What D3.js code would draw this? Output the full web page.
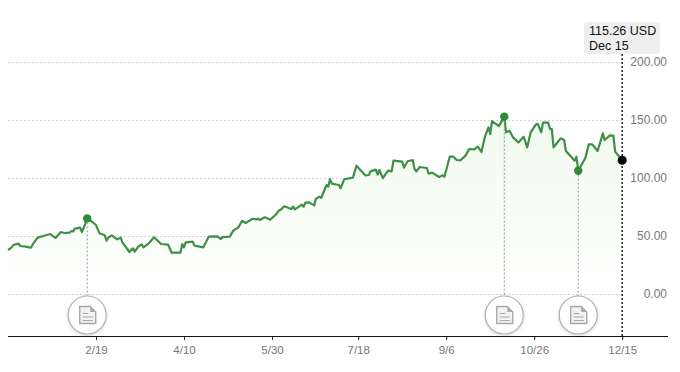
<!DOCTYPE html>
<html lang="en">
<head>
<meta charset="UTF-8"/>
<title>Price chart</title>
<script src="https://d3js.org/d3.v7.min.js"></script>
<style>
    body { margin: 0; background: #fff; }
    svg { display: block; font-family: "Liberation Sans", sans-serif; }
</style>
</head>
<body>
<script>
// days counted from Dec 31 of the year before
var days = [0,2,3,6,7,10,13,15,17,20,24,27,30,32,35,36,37,38,41,42,44,45,47,50,52,55,56,57,59,62,64,65,69,71,72,74,76,77,80,83,87,91,93,98,99,100,101,105,106,111,114,119,121,122,
    126,128,131,133,135,139,141,142,143,146,149,152,154,155,157,161,162,163,167,168,169,171,174,175,177,178,181,182,183,184,188,189,191,196,198,203,205,206,209,210,211,213,216,218,219,224,225,227,230,231,232,234,238,239,241,245,
    247,248,251,253,255,257,260,262,265,267,269,271,273,274,275,279,282,283,285,287,290,293,295,297,300,301,303,304,307,308,309,310,314,316,317,320,322,323,324,328,330,332,335,338,339,342,344,345,349];
var prices = [37.9,40.2,42.2,43.4,41.4,40.8,39.9,45.1,48.6,50,51.7,48.3,53.4,52.6,52.9,54.3,54,56.3,57.2,53.4,60.9,65.2,63.2,59.5,52.3,50.6,46,48.6,50.6,47.1,48.6,44.5,36.2,39.4,36.5,40.8,42.8,40.2,43.7,48.9,43.1,42.5,35.6,35.6,43.1,40.2,44.5,45.1,41.7,40.2,49.4,49.7,47.4,49.1,
    49.4,54.6,57.5,63.2,61.2,64.9,64.4,64.9,63.8,66.1,64.1,68.1,72.1,72.7,75.6,73.3,75.3,73,77,75.3,78.7,79,76.4,82.2,83.9,83,94,92.5,99.1,95.1,94,91.1,98.9,100.3,110.6,102.3,102.6,105.7,107.2,102.9,106.9,100,106.3,105.7,114.9,114.1,108.9,114.4,115.5,107.8,105.7,109.5,108.6,103.7,104.6,100.9,
    102.3,101.1,118.4,118.4,115.5,115.2,119.3,125,124.7,127,122.4,135.6,143.7,137.9,149.1,144.8,152.9,139.4,140.8,135,130.7,135.6,126.4,139.4,146.3,146.6,139.4,147.7,147.7,142.2,142.2,126.4,134.2,132.8,123.3,118.4,114.9,118.4,106.3,117,129,129,123.3,138.5,132.8,136.8,136.5,122.7,115.26];

var yTicks = [0,50,100,150,200];
var xTickDays = [50,100,150,199,249,299,349];
var xTickLabels = ["2/19","4/10","5/30","7/18","9/6","10/26","12/15"];
var eventDays = [45,282,324];

var w = 680;
var h = 372;
var left = 8;
var right = 668;
var axisY = 336;

var xScale = d3.scaleLinear().domain([0,349]).range([left,622.2]);
var yScale = d3.scaleLinear().domain([0,200]).range([294,62]);

var points = days.map(function(d, i) { return [d, prices[i]]; });

var svg = d3.select("body").append("svg").attr("width", w).attr("height", h);
var defs = svg.append("defs");

var grad = defs.append("linearGradient")
    .attr("id", "areaFill")
    .attr("gradientUnits", "userSpaceOnUse")
    .attr("x1", 0).attr("x2", 0)
    .attr("y1", yScale(150)).attr("y2", yScale(0));
grad.append("stop").attr("offset", "0%").attr("stop-color", "#f1f9ed");
grad.append("stop").attr("offset", "100%").attr("stop-color", "#ffffff");

var shadow = defs.append("filter").attr("id", "soft")
    .attr("x", "-30%").attr("y", "-30%").attr("width", "160%").attr("height", "160%");
shadow.append("feDropShadow")
    .attr("dx", 0).attr("dy", 1).attr("stdDeviation", 1.5)
    .attr("flood-color", "#000").attr("flood-opacity", 0.18);

// grid
svg.append("g").selectAll("line")
    .data(yTicks)
    .enter()
    .append("line")
    .attr("x1", left)
    .attr("x2", xScale(349))
    .attr("y1", function(d) { return yScale(d) + 0.5; })
    .attr("y2", function(d) { return yScale(d) + 0.5; })
    .attr("stroke", "#d2d2d2")
    .attr("stroke-dasharray", "2,2");

// area and line
var area = d3.area()
    .x(function(d) { return xScale(d[0]); })
    .y0(yScale(0))
    .y1(function(d) { return yScale(d[1]); });

var line = d3.line()
    .x(function(d) { return xScale(d[0]); })
    .y(function(d) { return yScale(d[1]); });

svg.append("path").datum(points).attr("d", area).attr("fill", "url(#areaFill)");

svg.append("path").datum(points)
    .attr("d", line)
    .attr("fill", "none")
    .attr("stroke", "#3f8f47")
    .attr("stroke-width", 2.2)
    .attr("stroke-linejoin", "round");

// y labels
svg.append("g").selectAll("text")
    .data(yTicks)
    .enter()
    .append("text")
    .attr("x", 667)
    .attr("y", function(d) { return yScale(d) + 4; })
    .attr("text-anchor", "end")
    .attr("font-size", 12)
    .attr("fill", "#777")
    .text(function(d) { return d.toFixed(2); });

// x axis
var xAxis = d3.axisBottom(xScale)
    .tickValues(xTickDays)
    .tickFormat(function(d, i) { return xTickLabels[i]; })
    .tickSize(4)
    .tickPadding(6);

var axisG = svg.append("g")
    .attr("transform", "translate(0," + axisY + ")")
    .call(xAxis);
axisG.select(".domain").remove();
axisG.selectAll("line").attr("stroke", "#222");
axisG.selectAll("text")
    .attr("font-family", "Liberation Sans")
    .attr("font-size", 11.5)
    .attr("fill", "#777");

svg.append("line")
    .attr("x1", left).attr("x2", right)
    .attr("y1", axisY + 0.5).attr("y2", axisY + 0.5)
    .attr("stroke", "#111")
    .attr("stroke-width", 1.2);

// events: drop line, dot, document badge
var events = svg.append("g").selectAll("g")
    .data(eventDays)
    .enter()
    .append("g");

events.append("line")
    .attr("x1", function(d) { return xScale(d); })
    .attr("x2", function(d) { return xScale(d); })
    .attr("y1", function(d) { return yScale(prices[days.indexOf(d)]); })
    .attr("y2", 296)
    .attr("stroke", "#9a9a9a")
    .attr("stroke-dasharray", "2,2");

events.append("circle")
    .attr("cx", function(d) { return xScale(d); })
    .attr("cy", function(d) { return yScale(prices[days.indexOf(d)]); })
    .attr("r", 4.2)
    .attr("fill", "#2f8a3a");

var badges = events.append("g")
    .attr("transform", function(d) { return "translate(" + xScale(d) + ",315)"; });

badges.append("circle")
    .attr("r", 19)
    .attr("fill", "#fff")
    .attr("stroke", "#b0b0b0")
    .attr("stroke-width", 1.2)
    .attr("filter", "url(#soft)");

badges.append("path")
    .attr("d", "M-7.5,-8.5H3L8.5,-3V8.5H-7.5Z")
    .attr("fill", "#f2f2f2")
    .attr("stroke", "#a8a8a8")
    .attr("stroke-width", 1.4);

badges.append("path")
    .attr("d", "M3,-8.5L8.5,-3H3Z")
    .attr("fill", "#a8a8a8");

badges.append("path")
    .attr("d", "M-4.5,-1.5H1M-4.5,2H5.5M-4.5,5.5H5.5")
    .attr("stroke", "#a8a8a8")
    .attr("stroke-width", 1.2);

// last value marker and label
var lastDay = days[days.length - 1];
var lastPrice = prices[prices.length - 1];

svg.append("line")
    .attr("x1", xScale(lastDay))
    .attr("x2", xScale(lastDay))
    .attr("y1", 54)
    .attr("y2", axisY)
    .attr("stroke", "#111")
    .attr("stroke-width", 1.4)
    .attr("stroke-dasharray", "2,2");

svg.append("circle")
    .attr("cx", xScale(lastDay))
    .attr("cy", yScale(lastPrice))
    .attr("r", 4.5)
    .attr("fill", "#000");

svg.append("rect")
    .attr("x", 584).attr("y", 22)
    .attr("width", 76).attr("height", 32)
    .attr("rx", 3)
    .attr("fill", "#eeeeee");

svg.append("text")
    .attr("x", 589).attr("y", 35)
    .attr("font-size", 12.5)
    .attr("fill", "#111")
    .text(lastPrice.toFixed(2) + " USD");

svg.append("text")
    .attr("x", 589).attr("y", 50)
    .attr("font-size", 12.5)
    .attr("fill", "#111")
    .text("Dec 15");
</script>
</body>
</html>
